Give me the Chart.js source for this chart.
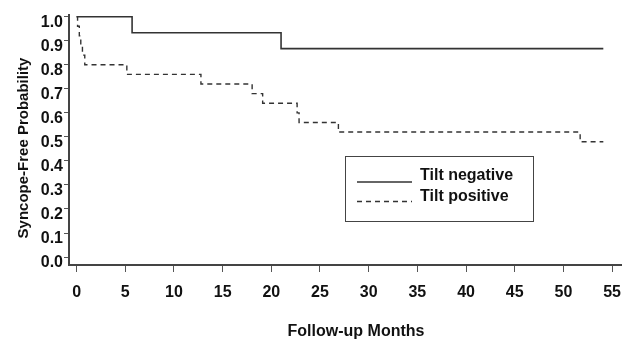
<!DOCTYPE html>
<html>
<head>
<meta charset="utf-8">
<script src="https://cdn.jsdelivr.net/npm/chart.js@4"></script>
<style>
  html, body { margin: 0; padding: 0; background: #fff; }
  #wrap { width: 632px; height: 345px; position: relative; }
</style>
</head>
<body>
<div id="wrap"><canvas id="km"></canvas></div>
<script>
// Kaplan-Meier curves (time in months, survival fraction)
const negTime = [0, 5.7, 21.0, 54.1];
const negSurv = [1.0, 0.933, 0.867, 0.867];

const posTime = [0, 0.1, 0.28, 0.43, 0.6, 0.84, 5.16, 12.77, 18.03, 19.11, 22.65, 22.85, 26.89, 51.72, 54.1];
const posSurv = [1.0, 0.96, 0.92, 0.88, 0.84, 0.80, 0.76, 0.72, 0.68, 0.64, 0.60, 0.56, 0.52, 0.48, 0.48];

const xTicks = [0, 5, 10, 15, 20, 25, 30, 35, 40, 45, 50, 55];
const yTicks = [0, 0.1, 0.2, 0.3, 0.4, 0.5, 0.6, 0.7, 0.8, 0.9, 1.0];

const FONT = "'Liberation Sans', Arial, sans-serif";

const toPoints = (t, s) => t.map((x, i) => ({ x: x, y: s[i] }));

/* =====================================
   AXIS TITLES + BOXED LEGEND
===================================== */
const decorPlugin = {
  id: "decor",
  afterDraw(chart) {
    const { ctx } = chart;
    ctx.save();

    // axis titles
    ctx.fillStyle = "#111";
    ctx.textAlign = "center";
    ctx.textBaseline = "middle";
    ctx.font = `bold 16px ${FONT}`;
    ctx.fillText("Follow-up Months", 356, 332);

    ctx.translate(24, 148);
    ctx.rotate(-Math.PI / 2);
    ctx.font = `bold 15px ${FONT}`;
    ctx.fillText("Syncope-Free Probability", 0, 0);
    ctx.setTransform(1, 0, 0, 1, 0, 0);

    // legend box
    ctx.strokeStyle = "#444";
    ctx.lineWidth = 1;
    ctx.strokeRect(345.5, 156.5, 188, 65);

    const rows = [182, 201.5];
    chart.data.datasets.forEach((ds, i) => {
      const y = rows[i];
      ctx.beginPath();
      ctx.strokeStyle = ds.borderColor;
      ctx.lineWidth = 1.6;
      ctx.setLineDash(ds.borderDash || []);
      ctx.moveTo(357, y);
      ctx.lineTo(412, y);
      ctx.stroke();
      ctx.setLineDash([]);

      ctx.fillStyle = "#111";
      ctx.textAlign = "left";
      ctx.textBaseline = "alphabetic";
      ctx.font = `bold 16px ${FONT}`;
      ctx.fillText(ds.label, 420, y - 2 + (i === 1 ? 1 : 0));
    });

    ctx.restore();
  }
};

new Chart(document.getElementById("km"), {
  type: "line",
  data: {
    datasets: [
      {
        label: "Tilt negative",
        data: toPoints(negTime, negSurv),
        borderColor: "#333",
        borderWidth: 1.6,
        stepped: "before",
        pointRadius: 0,
        fill: false
      },
      {
        label: "Tilt positive",
        data: toPoints(posTime, posSurv),
        borderColor: "#333",
        borderWidth: 1.4,
        borderDash: [5, 4],
        stepped: "before",
        pointRadius: 0,
        fill: false
      }
    ]
  },
  options: {
    responsive: true,
    maintainAspectRatio: false,
    animation: false,
    layout: { padding: { top: 15, right: 1, left: 0, bottom: 0 } },
    plugins: {
      legend: { display: false },
      tooltip: { enabled: false }
    },
    scales: {
      x: {
        type: "linear",
        min: -0.78,
        max: 56,
        afterBuildTicks: s => { s.ticks = xTicks.map(v => ({ value: v })); },
        afterFit: s => { s.height = 80; },
        border: { display: true, color: "#444", width: 2 },
        grid: {
          drawOnChartArea: false,
          drawTicks: true,
          tickLength: 7,
          tickColor: "#555",
          tickWidth: 1
        },
        ticks: {
          color: "#111",
          font: { family: FONT, size: 16, weight: "bold" },
          padding: 11,
          maxRotation: 0,
          autoSkip: false,
          callback: v => String(v)
        }
      },
      y: {
        type: "linear",
        min: -0.033,
        max: 1.007,
        afterBuildTicks: s => { s.ticks = yTicks.map(v => ({ value: v })); },
        afterFit: s => { s.width = 69; },
        border: { display: true, color: "#444", width: 2 },
        grid: {
          drawOnChartArea: false,
          drawTicks: true,
          tickLength: 5,
          tickColor: "#555",
          tickWidth: 1
        },
        ticks: {
          color: "#111",
          font: { family: FONT, size: 16, weight: "bold" },
          padding: 1,
          labelOffset: 6,
          autoSkip: false,
          callback: v => v.toFixed(1)
        }
      }
    }
  },
  plugins: [decorPlugin]
});
</script>
</body>
</html>
